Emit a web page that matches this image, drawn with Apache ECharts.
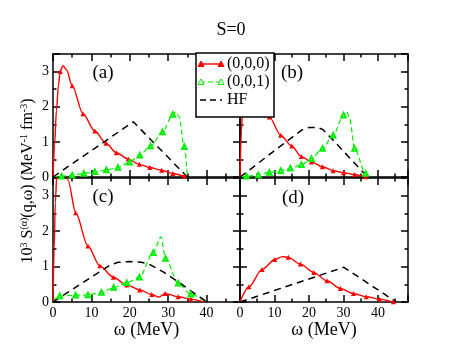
<!DOCTYPE html>
<html>
<head>
<meta charset="utf-8">
<script src="https://cdn.jsdelivr.net/npm/echarts@6/dist/echarts.min.js"></script>
<style>
html, body {margin: 0; padding: 0; background: #fff;}
#chart {width: 462px; height: 357px;}
</style>
</head>
<body>
<div id="chart"></div>
<script>
// axis ranges and tick labels
var xMax = 48.7;
var yMax = 3.5;
var xTickLabels = [0, 10, 20, 30, 40];
var yTickLabels = [0, 1, 2, 3];
var legendNames = ['(0,0,0)', '(0,0,1)', 'HF'];
var panelNames = ['(a)', '(b)', '(c)', '(d)'];

// panel (a): points without marker / points with marker
var a000Plain = [[0, 0], [0.4, 0.9], [0.9, 1.9], [1.4, 2.6], [2.6, 3.17], [3.5, 3.05], [34.6, 0]];
var a000Marked = [[1.9, 3.0], [5.0, 2.6], [7.8, 1.8], [10.9, 1.31], [13.8, 0.96], [16.5, 0.69], [19.6, 0.51],
    [22.5, 0.36], [25.2, 0.27], [28.3, 0.19], [31.2, 0.1], [34.2, 0.03]];
var a001Plain = [[0, 0], [32.0, 1.85], [32.8, 1.72], [35.0, 0]];
var a001Marked = [[2.2, 0.02], [5.0, 0.05], [8.0, 0.1], [10.9, 0.15], [13.9, 0.2], [16.9, 0.27], [19.9, 0.42],
    [22.6, 0.62], [25.4, 0.88], [28.5, 1.28], [31.2, 1.78], [34.2, 0.86]];
var aHF = [[0, 0], [20.9, 1.57], [35.0, 0]];

// panel (b)
var b000Plain = [[0, 0], [0.4, 1.3], [0.9, 2.3], [1.4, 3.1], [2, 3.7], [3, 3.9], [4, 3.3], [5, 2.75], [6, 2.3],
    [6.8, 2.0], [37.0, 0]];
var b000Marked = [[8.5, 1.71], [11.8, 1.19], [15.0, 0.88], [17.8, 0.58], [20.7, 0.43], [23.9, 0.29], [27.0, 0.18],
    [30.0, 0.12], [33.2, 0.07], [36.4, 0.01]];
var b001Plain = [[0, 0], [31.0, 1.86], [31.8, 1.65], [37.5, 0]];
var b001Marked = [[1.9, 0.02], [5.3, 0.06], [8.5, 0.13], [11.8, 0.18], [14.6, 0.25], [17.8, 0.35], [20.7, 0.52],
    [23.9, 0.81], [27.0, 1.19], [30.0, 1.76], [33.2, 0.81], [36.4, 0.1]];
var bHF = [[0, 0], [5, 0.37], [10, 0.75], [15, 1.12], [18, 1.34], [20, 1.41], [22.5, 1.41], [24, 1.35], [27, 1.05],
    [30, 0.73], [33, 0.42], [36, 0.1], [37.2, 0]];

// panel (c)
var c000Plain = [[0, 0], [0.3, 1.5], [0.6, 2.8], [1.0, 3.6], [1.6, 4.3], [2.4, 4.3], [3.2, 3.85], [3.9, 3.44],
    [27.6, 0.14], [39.2, 0]];
var c000Marked = [[5.9, 2.52], [9.1, 1.58], [12.2, 1.02], [15.7, 0.70], [19.2, 0.48], [22.6, 0.34], [25.7, 0.21],
    [29.2, 0.24], [32.6, 0.15], [35.9, 0.08]];
var c001Plain = [[0, 0.02], [28.1, 1.84], [39.5, 0.03]];
var c001Marked = [[1.75, 0.17], [5.9, 0.19], [9.1, 0.2], [12.6, 0.27], [15.8, 0.41], [19.2, 0.54], [22.5, 0.70],
    [26.1, 1.39], [29.3, 1.23], [32.6, 0.53], [35.9, 0.22]];
var cHF = [[0, 0], [15, 1.05], [17, 1.12], [20, 1.14], [23, 1.12], [25, 1.07], [28.7, 0.85], [33.1, 0.53],
    [37.4, 0.2], [40.2, 0]];

// panel (d)
var d000Plain = [[0, 0], [12.3, 1.28], [45.0, 0]];
var d000Marked = [[2.6, 0.43], [6.4, 0.92], [10.1, 1.20], [14.0, 1.26], [17.5, 1.07], [21.4, 0.83], [25.2, 0.60],
    [29.1, 0.38], [32.9, 0.24], [36.6, 0.15], [40.5, 0.08], [44.5, 0.01]];
var dHF = [[0, 0], [30.1, 0.98], [45.3, 0]];

var font = 'Liberation Serif';
var red = '#ff0000', green = '#00ee00';
var black = {color: '#000', width: 1.5};
var grids = [
    {left: 53, top: 54, width: 187, height: 123},
    {left: 240, top: 54, width: 168, height: 123},
    {left: 53, top: 178, width: 187, height: 124},
    {left: 240, top: 178, width: 168, height: 124}
];

// merge points: plain ones get no symbol
function curve(plain, marked) {
    var pts = plain.map(function (p) { return {value: p, symbol: 'none'}; })
        .concat(marked.map(function (p) { return {value: p}; }));
    pts.sort(function (u, v) { return u.value[0] - v.value[0]; });
    return pts;
}

function isIn(list, v) {
    for (var i = 0; i < list.length; i++) {
        if (Math.abs(list[i] - v) < 1e-6) return true;
    }
    return false;
}

// one side of a frame: short ticks axis + long ticks overlay
function sideAxes(dim, gi, pos, showLabel) {
    var isX = dim === 'x';
    var labels = isX ? xTickLabels : yTickLabels;
    var base = {
        gridIndex: gi, type: 'value', position: pos, min: 0, max: isX ? xMax : yMax,
        splitLine: {show: false}
    };
    var main = Object.assign({}, base, {
        interval: isX ? 5 : 0.5,
        axisLine: {show: true, onZero: false, lineStyle: black},
        axisTick: {show: true, inside: true, length: 3.5, lineStyle: black},
        axisLabel: {
            show: showLabel, margin: 4, color: '#000', fontFamily: font, fontSize: 14,
            formatter: function (v) { return isIn(labels, v) ? String(Math.round(v)) : ''; }
        }
    });
    var major = Object.assign({}, base, {
        interval: isX ? 10 : 1,
        axisLine: {show: false, onZero: false},
        axisTick: {show: true, inside: true, length: 7, lineStyle: black},
        axisLabel: {show: false}
    });
    return [main, major];
}

var xAxes = [], yAxes = [];
grids.forEach(function (g, gi) {
    xAxes = xAxes.concat(sideAxes('x', gi, 'bottom', gi >= 2), sideAxes('x', gi, 'top', false));
    yAxes = yAxes.concat(sideAxes('y', gi, 'left', gi % 2 === 0), sideAxes('y', gi, 'right', false));
});
// x axis titles on the bottom panels
[2, 3].forEach(function (gi) {
    xAxes[gi * 4].name = 'ω (MeV)';
    xAxes[gi * 4].nameLocation = 'middle';
    xAxes[gi * 4].nameGap = 17;
    xAxes[gi * 4].nameTextStyle = {color: '#000', fontFamily: font, fontSize: 18};
});

function redLine(gi, plain, marked) {
    return {
        name: legendNames[0], type: 'line', xAxisIndex: gi * 4, yAxisIndex: gi * 4,
        data: curve(plain, marked), smooth: 0.3, smoothMonotone: 'x',
        symbol: 'triangle', symbolSize: 5, color: red,
        lineStyle: {color: red, width: 1.4}
    };
}
function greenLine(gi, plain, marked) {
    return {
        name: legendNames[1], type: 'line', xAxisIndex: gi * 4, yAxisIndex: gi * 4,
        data: curve(plain, marked), smooth: 0.3, smoothMonotone: 'x',
        symbol: 'emptyTriangle', symbolSize: 4.5, color: green,
        itemStyle: {borderWidth: 1},
        lineStyle: {color: green, width: 1.2, type: [5, 3]}
    };
}
function hfLine(gi, pts) {
    return {
        name: legendNames[2], type: 'line', xAxisIndex: gi * 4, yAxisIndex: gi * 4,
        data: pts, symbol: 'none', color: '#000',
        lineStyle: {color: '#000', width: 1.5, type: [7, 5]}
    };
}

var series = [
    redLine(0, a000Plain, a000Marked), greenLine(0, a001Plain, a001Marked), hfLine(0, aHF),
    redLine(1, b000Plain, b000Marked), greenLine(1, b001Plain, b001Marked), hfLine(1, bHF),
    redLine(2, c000Plain, c000Marked), greenLine(2, c001Plain, c001Marked), hfLine(2, cHF),
    redLine(3, d000Plain, d000Marked), hfLine(3, dHF)
];

// panel letters
var panelPos = [[103, 73], [292, 73], [103, 197], [293, 198]];
var graphics = panelNames.map(function (t, i) {
    return {
        type: 'text', x: panelPos[i][0], y: panelPos[i][1],
        style: {text: t, fontFamily: font, fontSize: 19, fill: '#000', align: 'center', verticalAlign: 'middle'}
    };
});
// y axis title with superscripts
graphics.push({
    type: 'text', x: 28, y: 181, rotation: Math.PI / 2,
    style: {
        text: '10{s|3} S{s|(α)}(q,ω) (MeV{s|-1} fm{s|-3})',
        fontFamily: font, fontSize: 16, fill: '#000', align: 'center', verticalAlign: 'middle',
        rich: {s: {fontFamily: font, fontSize: 10, fill: '#000', verticalAlign: 'top', lineHeight: 18}}
    }
});

// legend box drawn by hand (xmgrace style: symbol at both ends)
function tri(cx, cy, fill, stroke) {
    return {
        type: 'polygon', z: 101,
        shape: {points: [[cx, cy - 3], [cx - 3, cy + 2.5], [cx + 3, cy + 2.5]]},
        style: {fill: fill, stroke: stroke, lineWidth: 1}
    };
}
var legendRows = [64, 82, 100];
graphics.push({
    type: 'rect', z: 100, shape: {x: 196, y: 53, width: 78, height: 64},
    style: {fill: '#fff', stroke: '#000', lineWidth: 1.5}
});
var legendLine = [
    {stroke: red, lineWidth: 1.4},
    {stroke: green, lineWidth: 1.2, lineDash: [5, 3]},
    {stroke: '#000', lineWidth: 1.5, lineDash: [6, 4]}
];
legendNames.forEach(function (n, i) {
    var y = legendRows[i];
    graphics.push({type: 'line', z: 101, shape: {x1: 200, y1: y, x2: 222, y2: y}, style: legendLine[i]});
    if (i === 0) {
        graphics.push(tri(201, y, red, red), tri(221, y, red, red));
    } else if (i === 1) {
        graphics.push(tri(201, y, '#fff', green), tri(221, y, '#fff', green));
    }
    graphics.push({
        type: 'text', z: 101, x: 227, y: y,
        style: {text: n, fontFamily: font, fontSize: 16, fill: '#000', verticalAlign: 'middle'}
    });
});

var myChart = echarts.init(document.getElementById('chart'));
myChart.setOption({
    animation: false,
    backgroundColor: '#fff',
    title: {
        text: 'S=0', left: 'center', top: 16,
        textStyle: {color: '#000', fontFamily: font, fontSize: 18, fontWeight: 'normal'}
    },
    grid: grids,
    xAxis: xAxes,
    yAxis: yAxes,
    series: series,
    graphic: graphics
});
</script>
</body>
</html>
